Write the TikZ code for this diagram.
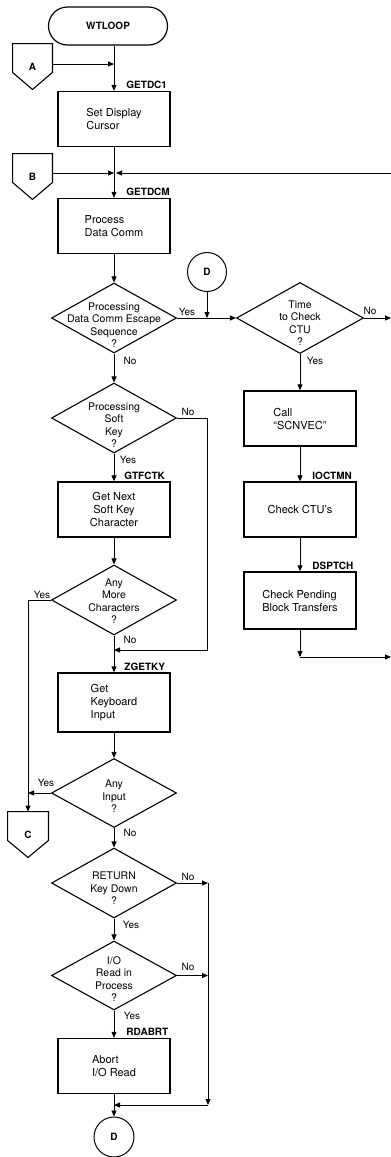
\documentclass[tikz,border=0pt]{standalone}
\usepackage{fontspec}
\setmainfont{TeX Gyre Heros}
\usetikzlibrary{shapes.geometric, arrows.meta, calc}

\tikzset{
  procbox/.style={draw, rectangle, line width=1.3pt, minimum width=112pt, minimum height=55pt, align=left, inner sep=0pt},
  decision/.style={draw, diamond, line width=1.1pt, minimum width=125pt, minimum height=70pt, inner sep=0pt},
  dtext/.style={align=center, inner sep=0pt, font=\fontsize{10.5}{12.5}\selectfont},
  entry/.style={anchor=south west, inner sep=0pt, font=\bfseries\fontsize{10}{12}\selectfont},
  answer/.style={inner sep=0pt, font=\fontsize{10}{12}\selectfont},
  offpage/.style={rectangle, minimum width=39pt, minimum height=45pt, inner sep=0pt, font=\bfseries\fontsize{10}{12}\selectfont},
  joint/.style={draw, circle, line width=1pt, minimum size=39pt, inner sep=0pt, font=\bfseries\fontsize{10}{12}\selectfont},
}

\begin{document}
\begin{tikzpicture}[x=1pt, y=-1pt, >={Triangle[length=6pt,width=5pt]}, line width=0.9pt, font=\fontsize{11}{13}\selectfont]
\useasboundingbox (0,0) rectangle (391,1157);

% main column
\node[draw, rectangle, rounded corners=19pt, line width=1.2pt, minimum width=119pt, minimum height=38pt, font=\bfseries\fontsize{10}{12}\selectfont] (wtloop) at (108,26) {WTLOOP};
\node[offpage] (cona) at (32.5,66.5) {A};
\node[procbox] (setdc) at (114,119) {Set Display\\Cursor};
\node[offpage] (conb) at (32.5,176.5) {B};
\node[procbox] (procdc) at (114,226) {Process\\Data Comm};
\node[decision] (escq) at (114,318) {};
\node[dtext] (esct) at (114,325) {Processing\\Data Comm Escape\\Sequence\\?};
\node[decision] (softq) at (114,418) {};
\node[dtext] (softt) at (114,425) {Processing\\Soft\\Key\\?};
\node[procbox, align=center] (nextch) at (114,509.5) {Get Next\\Soft Key\\Character};
\node[decision] (moreq) at (114,600) {};
\node[dtext] (moret) at (114,601) {Any\\More\\Characters\\?};
\node[procbox, minimum height=59pt] (keybd) at (114,702.5) {Get\\Keyboard\\Input};
\node[decision, minimum height=69pt] (inpq) at (114,793) {};
\node[dtext] (inpt) at (114,796.5) {Any\\Input\\?};
\node[offpage, minimum width=40pt] (conc) at (28,834.5) {C};
\node[decision] (retq) at (114,883) {};
\node[dtext] (rett) at (114,888.5) {RETURN\\Key Down\\?};
\node[decision, minimum height=69pt] (ioq) at (114,975.5) {};
\node[dtext] (iot) at (114,979) {I/O\\Read in\\Process\\?};
\node[procbox] (abort) at (114,1066) {Abort\\I/O Read};
\node[joint, minimum size=40pt] (dbot) at (114,1137) {D};

% right column
\node[joint] (dtop) at (207,272) {D};
\node[decision, minimum width=127pt, minimum height=71pt] (ctuq) at (300,318) {};
\node[dtext] (ctut) at (300,323) {Time\\to Check\\CTU\\?};
\node[procbox] (scnvec) at (300,418.5) {Call\\“SCNVEC”};
\node[procbox] (chkctu) at (300,509.5) {Check CTU’s};
\node[procbox, minimum height=57pt] (pend) at (300,600.5) {Check Pending\\Block Transfers};

% entry point names
\node[entry] (lgetdc1) at (126,89) {GETDC1};
\node[entry] (lgetdcm) at (126,196) {GETDCM};
\node[entry] (lgtfctk) at (124,480) {GTFCTK};
\node[entry] (lioctmn) at (312,480) {IOCTMN};
\node[entry] (ldsptch) at (312,570) {DSPTCH};
\node[entry] (lzgetky) at (124,671) {ZGETKY};
\node[entry] (lrdabrt) at (126,1036) {RDABRT};

% answers
\node[answer] (escyes) at (187,312) {Yes};
\node[answer] (escno) at (130,361) {No};
\node[answer] (ctuno) at (370,311) {No};
\node[answer] (ctuyes) at (315,361) {Yes};
\node[answer] (softno) at (188,412) {No};
\node[answer] (softyes) at (128,460) {Yes};
\node[answer] (moreyes) at (42,595) {Yes};
\node[answer] (moreno) at (130,640) {No};
\node[answer] (inpyes) at (46,783) {Yes};
\node[answer] (inpno) at (130,833) {No};
\node[answer] (retno) at (188,877) {No};
\node[answer] (retyes) at (131,925) {Yes};
\node[answer] (iono) at (188,967) {No};
\node[answer] (ioyes) at (132,1016) {Yes};

% off-page connector outlines
\foreach \c in {cona,conb,conc}
  \draw[line width=1.1pt] (\c.north west) -- (\c.north east) -- ($(\c.south east)+(0,-17)$) -- (\c.south) -- ($(\c.south west)+(0,-17)$) -- cycle;

% join points
\coordinate (ajoin) at (114,64);
\coordinate (bjoin) at (114,173);
\coordinate (bfar) at (391,173);
\coordinate (ctufar) at (391,318);
\coordinate (pendout) at (300,657);
\coordinate (pendfar) at (391,657);
\coordinate (softbyp) at (207,650);
\coordinate (rbyp) at (208,1105);

% flow lines
\draw[->] (wtloop.south -| setdc.north) -- (setdc.north);
\draw[->] (cona.east |- ajoin) -- (ajoin);
\draw[->] (setdc) -- (procdc);
\draw[->] (conb.east |- bjoin) -- (bjoin);
\draw[->, shorten >=2pt] (bfar) -- (bjoin);
\draw[->] (procdc) -- (escq);
\draw[->] (escq.east) -- (ctuq.west);
\draw[->] (dtop) -- (dtop |- escq.east);
\draw[->] (ctuq.east) -- (ctufar);
\draw[->] (ctuq) -- (scnvec);
\draw[->] (scnvec) -- (chkctu);
\draw[->] (chkctu) -- (pend);
\draw[->] (pend) -- (pendout);
\draw[->] (pendout) -- (pendfar);
\draw[->] (escq) -- (softq);
\draw[->] (softq.east) -| (softbyp) -- (softbyp -| keybd.north);
\draw[->] (softq) -- (nextch);
\draw[->] (nextch) -- (moreq);
\draw[->] (moreq) -- (keybd);
\draw[->] (moreq.west) -| (conc.north);
\draw[->] (keybd) -- (inpq);
\draw[->] (inpq.west) -- (inpq.west -| conc.north);
\draw[->] (inpq) -- (retq);
\draw[->] (retq.east) -- (retq.east -| rbyp);
\draw[->] (retq) -- (ioq);
\draw[->] (ioq.east) -- (ioq.east -| rbyp);
\draw[->] (retq.east -| rbyp) -- (rbyp);
\draw[->] (rbyp) -- (rbyp -| dbot.north);
\draw[->] (ioq) -- (abort);
\draw[->] (abort) -- (dbot);
\end{tikzpicture}
\end{document}
